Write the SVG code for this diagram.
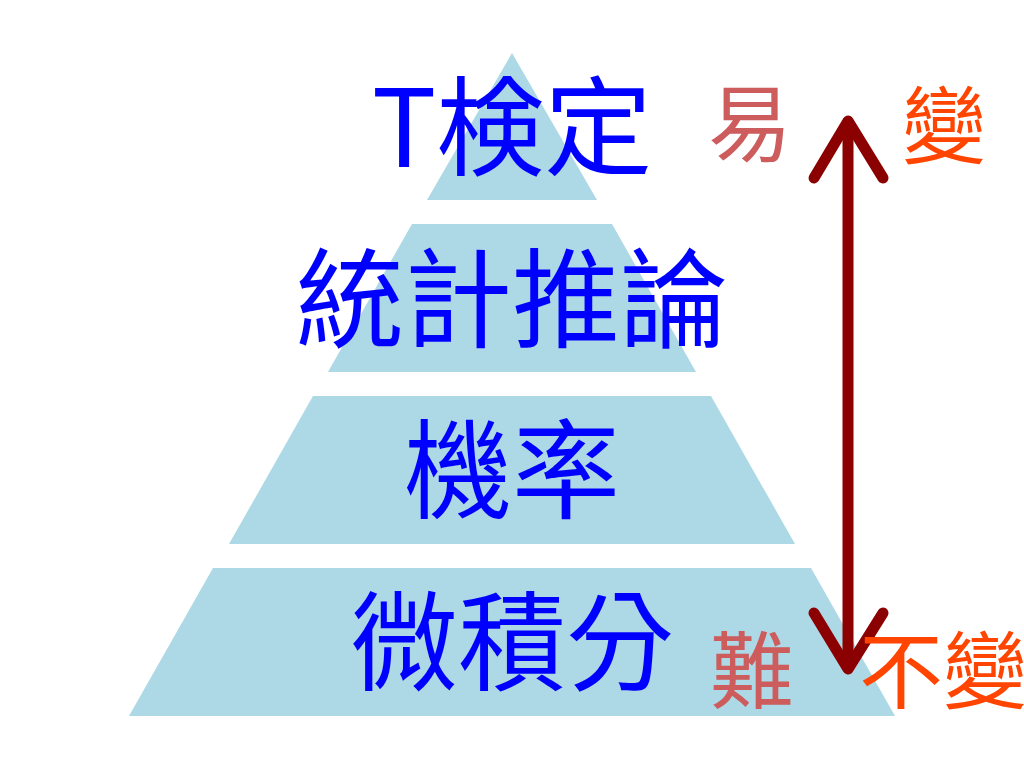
<svg xmlns="http://www.w3.org/2000/svg" width="1024" height="768" viewBox="0 0 1024 768">
<style>
.tier{fill:#ADD8E6;}
.main{font-family:"Noto Sans CJK TC","Noto Sans CJK JP",sans-serif;font-size:108px;fill:#0000FF;text-anchor:middle;}
.side{font-family:"Noto Sans CJK TC","Noto Sans CJK JP",sans-serif;font-size:84px;}
.easy{fill:#CD5C5C;}
.chg{fill:#FF4500;}
.arr{fill:none;stroke:#8B0000;stroke-width:11;stroke-linecap:round;stroke-linejoin:round;}
</style>
<rect width="1024" height="768" fill="#FFFFFF"/>
<g id="tier4">
<polygon class="tier" points="213,568 811,568 895,716 129,716"/>
<text class="main" x="512" y="682">微積分</text>
</g>
<g id="tier3">
<polygon class="tier" points="313,396 711,396 795,544 229,544"/>
<text class="main" x="512" y="510">機率</text>
</g>
<g id="tier2">
<polygon class="tier" points="412,224 612,224 696,372 328,372"/>
<text class="main" x="512" y="339">統計推論</text>
</g>
<g id="tier1">
<polygon class="tier" points="512,53 597,200 427,200"/>
<text class="main" x="512" y="167">T検定</text>
</g>
<g id="connectors">
<line class="arr" x1="848" y1="124" x2="848" y2="664"/>
<polyline class="arr" points="814,178 848,121 883,178"/>
<polyline class="arr" points="814,613 848,669 883,613"/>
</g>
<g id="labels">
<text class="side easy" x="750" y="155" text-anchor="middle">易</text>
<text class="side chg" x="944" y="157" text-anchor="middle">變</text>
<text class="side easy" x="752" y="702" text-anchor="middle">難</text>
<text class="side chg" x="859" y="702">不變</text>
</g>
</svg>
